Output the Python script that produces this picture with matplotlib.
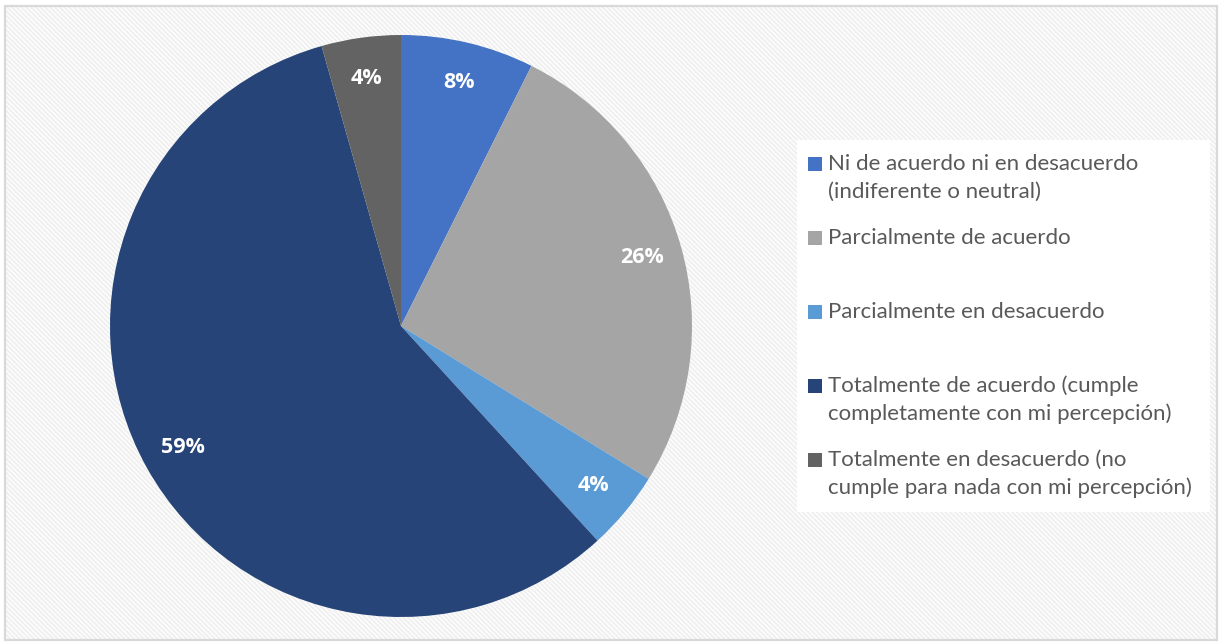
import matplotlib.pyplot as plt
from matplotlib.patches import Rectangle

# categories in drawing order (clockwise from 12 o'clock)
categories = [
    "Ni de acuerdo ni en desacuerdo\n(indiferente o neutral)",
    "Parcialmente de acuerdo",
    "Parcialmente en desacuerdo",
    "Totalmente de acuerdo (cumple\ncompletamente con mi percepción)",
    "Totalmente en desacuerdo (no\ncumple para nada con mi percepción)",
]
shares = [7.4, 26.4, 4.4, 57.4, 4.4]
pct_labels = ["8%", "26%", "4%", "59%", "4%"]
colors = ["#4472C4", "#A5A5A5", "#5B9BD5", "#264478", "#636363"]

W, H = 1220, 644
fig = plt.figure(figsize=(W / 100, H / 100), dpi=100)
plt.rcParams['hatch.linewidth'] = 1.5
plt.rcParams['hatch.color'] = "#f0f0f0"

# hatched background + frame (behind the pie axes)
bg = Rectangle((5 / W, 4 / H), 1212 / W, 634 / H, transform=fig.transFigure,
               facecolor="white", edgecolor="#f0f0f0", hatch="\\" * 7, lw=0,
               zorder=-3)
fig.patches.append(bg)
frame = Rectangle((5 / W, 4 / H), 1212 / W, 634 / H, transform=fig.transFigure,
                  facecolor="none", edgecolor="#d9d9d9", lw=1.6, zorder=-2)
fig.patches.append(frame)

cx, cy, r = 401, 326, 291
ax = fig.add_axes([(cx - r) / W, (H - cy - r) / H, 2 * r / W, 2 * r / H])

lab_iter = iter(pct_labels)
wedges, texts, autotexts = ax.pie(
    shares, colors=colors, startangle=90, counterclock=False,
    autopct=lambda p: next(lab_iter), pctdistance=0.86,
    textprops=dict(color="white", fontsize=15.5, fontweight="bold",
                   family="Open Sans"),
)
ax.set_xlim(-1, 1)
ax.set_ylim(-1, 1)
ax.set_aspect("equal")

# legend drawn by hand to follow the uneven spacing
fig.patches.append(Rectangle((797 / W, 1 - 512 / H), 413 / W, 372 / H,
                             transform=fig.transFigure, facecolor="white",
                             edgecolor="none", zorder=-1))
entry_y = [164, 238, 312, 386, 460]
for name, col, y in zip(categories, colors, entry_y):
    fig.patches.append(Rectangle((808 / W, 1 - (y + 7) / H), 14 / W, 14 / H,
                                 transform=fig.transFigure, facecolor=col,
                                 edgecolor="none", zorder=-0.5))
    for i, line in enumerate(name.split("\n")):
        fig.text(828 / W, 1 - (y + i * 28) / H, line, fontsize=16,
                 family="Lato", color="#595959", va="center", ha="left")

fig.savefig("out.png", dpi=100)
